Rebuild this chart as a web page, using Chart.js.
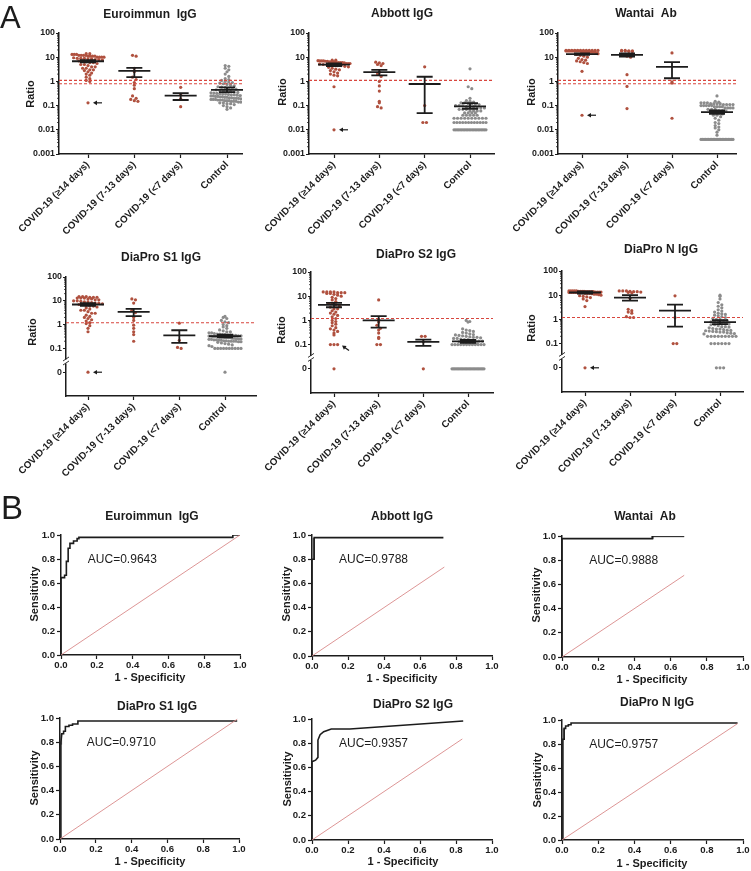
<!DOCTYPE html>
<html><head><meta charset="utf-8"><title>SARS-CoV-2 antibody assays</title>
<script src="https://cdn.jsdelivr.net/npm/chart.js@4.4.1/dist/chart.umd.min.js"></script>
<style>html,body{margin:0;padding:0;background:#fff}#wrap{position:relative;width:751px;height:871px;overflow:hidden;background:#fff}#wrap canvas{position:absolute;left:0;top:0}</style>
</head><body><div id="wrap"></div>
<script>
// ================= DATA =================
const groupLabels = ["COVID-19 (\u226514 days)", "COVID-19 (7-13 days)", "COVID-19 (<7 days)", "Control"];
const logTickLabels = ["0.001","0.01","0.1","1","10","100"];
const brokenTickLabels = ["0","0.1","1","10","100"];
const rocTickLabels = ["0.0","0.2","0.4","0.6","0.8","1.0"];

// Euroimmun IgG ratios
const euroG1 = [14,14,13,13,13,12,12,12,12,11,11,11,11,10,10,10,10,9.5,9,9,9,8.5,8.5,8,8,7.5,7,7,6.5,6,6,5.5,5,5,4.5,4,4,3.5,3.5,3,3,2.8,2.5,2.2,2,1.8,1.5,1.3,1.1,1.0,0.13];
const euroG2 = [12,11,3.5,2.5,1.5,1.2,0.9,0.7,0.5,0.25,0.2,0.18,0.16,0.15];
const euroG3 = [0.57,0.28,0.19,0.09];
const euroCtrl = [4.5,4.2,3.5,3.0,2.5,2.0,1.6,1.3,1.2,1.1,1.0,0.95,0.9,0.85,0.8,0.75,0.7,0.65,0.6,0.58,0.55,0.52,0.5,0.48,0.45,0.42,0.4,0.4,0.38,0.36,0.35,0.34,0.33,0.32,0.31,0.3,0.3,0.29,0.28,0.28,0.27,0.26,0.26,0.25,0.25,0.24,0.24,0.23,0.23,0.22,0.22,0.21,0.21,0.2,0.2,0.2,0.19,0.19,0.18,0.18,0.18,0.17,0.17,0.17,0.16,0.16,0.16,0.15,0.15,0.15,0.14,0.14,0.14,0.13,0.13,0.12,0.12,0.11,0.1,0.09,0.08,0.07];
const euroMean = [6.8,2.7,0.26,0.45];
const euroHi = [7.6,3.6,0.33,0.57];
const euroLo = [6.1,1.5,0.17,0.36];
const euroCut = [1.1,0.8];

// Abbott IgG index
const abbG1 = [7.5,7.5,7.2,7,7,7,6.8,6.8,6.5,6.5,6.5,6.2,6,6,6,6,5.8,5.5,5.5,5.5,5.2,5,5,5,4.8,4.5,4.5,4.2,4,3.8,3.5,3.2,3,2.8,2.5,2.2,2,1.8,1.7,0.6,0.01];
const abbG2 = [6.2,5.8,5.5,5,4.5,2.4,2,1.6,1.0,0.65,0.4,0.15,0.13,0.09,0.08];
const abbG3 = [4,0.1,0.02,0.02];
const abbCtrl = [3.3,0.6,0.5,0.2,0.16,0.15,0.14,0.13,0.13,0.12,0.12,0.11,0.11,0.1,0.1,0.1,0.09,0.09,0.09,0.08,0.08,0.08,0.07,0.07,0.07,0.06,0.06,0.06,0.06,0.05,0.05,0.05,0.05,0.04,0.04,0.04,0.04,0.04,0.03,0.03,0.03,0.03,0.03,0.03,0.03,0.03,0.03,0.03,0.02,0.02,0.02,0.02,0.02,0.02,0.02,0.02,0.02,0.02,0.02,0.02,0.01,0.01,0.01,0.01,0.01,0.01,0.01,0.01,0.01,0.01,0.01,0.01,0.01,0.01,0.01,0.01,0.01,0.01,0.01,0.01,0.01,0.01];
const abbMean = [4.9,2.4,0.78,0.093];
const abbHi = [5.5,3.0,1.56,0.127];
const abbLo = [4.3,1.77,0.049,0.074];
const abbCut = [1.1];

// Wantai total antibody
const wanG1 = [19,19,19,19,19,19,19,19,19,19,19,19,18,18,18,18,18,18,18,18,18,18,17,17,17,17,17,17,16,16,16,16,15,14,13,12,11,10,9,8,7.5,7,6.5,6,5.5,2.6,0.04];
const wanG2 = [19,19,18.5,18.5,18,18,17.5,17,12,11,10,1.9,0.62,0.075];
const wanG3 = [15,0.95,0.85,0.03];
const wanCtrl = [0.25,0.15,0.14,0.13,0.13,0.13,0.12,0.12,0.12,0.12,0.11,0.11,0.11,0.11,0.1,0.1,0.1,0.1,0.1,0.09,0.09,0.09,0.09,0.08,0.08,0.08,0.08,0.07,0.07,0.07,0.06,0.06,0.06,0.055,0.05,0.05,0.045,0.04,0.04,0.035,0.03,0.025,0.02,0.018,0.015,0.013,0.012,0.01,0.008,0.006,0.004,0.004,0.004,0.004,0.004,0.004,0.004,0.004,0.004,0.004,0.004,0.004,0.004,0.004,0.004,0.004,0.004,0.004,0.004,0.004,0.004,0.004];
const wanMean = [13.5,12.5,4.0,0.054];
const wanHi = [14.5,14.2,6.3,0.063];
const wanLo = [12.5,10.5,1.35,0.046];
const wanCut = [1.1,0.8];

// DiaPro S1 IgG
const s1G1 = [15,15,15,14,14,14,13,13,13,12,12,11,11,10,10,9.5,9,9,8.5,8,8,7.5,7,7,6.5,6,6,5.5,5,4.5,4,4,3.5,3,3,2.5,2.2,2,1.8,1.6,1.4,1.2,1.1,0.9,0.7,0.5,0];
const s1G2 = [12,11,8,4,3.2,2,1.5,0.95,0.7,0.5,0.38,0.2];
const s1G3 = [1.15,0.22,0.11,0.1];
const s1Ctrl = [2.2,2.0,1.8,1.5,1.3,1.2,1.0,0.9,0.8,0.7,0.6,0.55,0.5,0.5,0.45,0.45,0.42,0.4,0.4,0.38,0.38,0.36,0.36,0.35,0.35,0.34,0.34,0.33,0.33,0.32,0.32,0.31,0.31,0.3,0.3,0.3,0.29,0.29,0.28,0.28,0.27,0.27,0.26,0.26,0.25,0.25,0.24,0.24,0.23,0.23,0.22,0.22,0.21,0.21,0.2,0.2,0.2,0.2,0.19,0.19,0.18,0.17,0.16,0.15,0.14,0.13,0.12,0.1,0.1,0.1,0.1,0.1,0.1,0.1,0.1,0.1,0.1,0];
const s1Mean = [7.0,3.4,0.35,0.33];
const s1Hi = [8.0,4.6,0.58,0.38];
const s1Lo = [6.2,2.25,0.17,0.29];
const s1Cut = [1.2];

// DiaPro S2 IgG
const s2G1 = [15,15,15,15,14,14,14,13,13,12,11,10,9,8,7,6,5,5,4.5,4,3.5,3,3,2.5,2.2,2,1.8,1.6,1.4,1.2,1,0.9,0.8,0.7,0.6,0.5,0.45,0.4,0.35,0.3,0.25,0.1,0.1,0.1,0];
const s2G2 = [7,1.1,0.85,0.63,0.47,0.4,0.3,0.2,0.18,0.1,0.1];
const s2G3 = [0.22,0.22,0.13,0];
const s2Ctrl = [1.0,0.9,0.85,0.45,0.4,0.38,0.35,0.32,0.3,0.28,0.26,0.25,0.24,0.23,0.22,0.21,0.2,0.2,0.19,0.18,0.18,0.17,0.16,0.16,0.15,0.15,0.14,0.14,0.13,0.13,0.12,0.12,0.11,0.11,0.1,0.1,0.1,0.1,0.1,0.1,0.1,0.1,0.1,0.1,0.1,0.1,0,0,0,0,0,0,0,0,0,0,0,0,0,0,0,0,0,0,0,0,0,0,0,0,0];
const s2Mean = [4.4,1.0,0.13,0.137];
const s2Hi = [5.3,1.5,0.16,0.155];
const s2Lo = [3.5,0.5,0.088,0.117];
const s2Cut = [1.2];

// DiaPro N IgG
const nG1 = [15,15,15,15,15,14.5,14.5,14.5,14.5,14,14,14,14,14,13.5,13.5,13.5,13.5,13,13,13,13,12.5,12.5,12.5,12,12,12,11.5,11,11,10.5,10,9.5,9,8.5,8,7,6,3.4,0];
const nG2 = [15,15,15,14.5,14,14,13.5,13,12.5,7.5,2.6,2.3,2,1.8,1.3,1.2,1.2];
const nG3 = [9.4,1.2,0.1,0.1];
const nCtrl = [10,9,7,5,4,3.5,3,2.5,2.2,2,1.8,1.7,1.6,1.5,1.4,1.3,1.2,1.1,1.0,1.0,0.9,0.9,0.8,0.8,0.75,0.7,0.7,0.65,0.6,0.6,0.55,0.5,0.5,0.48,0.45,0.42,0.4,0.4,0.38,0.36,0.35,0.34,0.33,0.32,0.31,0.3,0.3,0.28,0.27,0.26,0.25,0.2,0.2,0.2,0.2,0.2,0.2,0.2,0.2,0.2,0.1,0.1,0.1,0.1,0.1,0.1,0,0,0];
const nMean = [12.9,8.0,2.3,0.77];
const nHi = [14.2,10,4.1,0.94];
const nLo = [11.7,6.0,0.5,0.64];
const nCut = [1.2];

// ROC curves (1 - specificity, sensitivity)
const rocEuroX = [0,0,0.02,0.02,0.03,0.03,0.04,0.04,0.05,0.05,0.07,0.07,0.09,0.09,0.1,0.1,0.96,0.96,1.0];
const rocEuroY = [0,0.645,0.645,0.665,0.665,0.78,0.78,0.89,0.89,0.93,0.93,0.95,0.95,0.97,0.97,0.98,0.98,1.0,1.0];
const rocAbbX = [0,0,0.012,0.012,0.73];
const rocAbbY = [0,0.8,0.8,0.978,0.978];
const rocAbbTieX = [0.006,0.006];
const rocAbbTieY = [0.8,0.975];
const rocWanX = [0,0,0.5,0.5,0.675];
const rocWanY = [0,0.978,0.978,1.0,1.0];
const rocWanTieX = [0.5,0.5,0.675];
const rocWanTieY = [0.978,1.0,1.0];
const rocS1X = [0,0.005,0.01,0.02,0.02,0.03,0.03,0.05,0.05,0.07,0.07,0.1,0.1,0.99];
const rocS1Y = [0,0.8,0.87,0.87,0.89,0.89,0.93,0.93,0.94,0.94,0.95,0.95,0.975,0.975];
const rocS1TieX = [0.005,0.005];
const rocS1TieY = [0.78,0.87];
const rocS2X = [0,0,0.02,0.033,0.033,0.045,0.065,0.107,0.21,0.84];
const rocS2Y = [0,0.647,0.66,0.683,0.826,0.87,0.895,0.917,0.917,0.983];
const rocNX = [0,0.005,0.012,0.012,0.02,0.02,0.035,0.035,0.05,0.05,0.97];
const rocNY = [0,0.84,0.84,0.93,0.93,0.95,0.95,0.96,0.96,0.975,0.975];
const rocNTieX = [0.005,0.005];
const rocNTieY = [0.84,0.93];
const rocDiagEnd = [1.0,0.735,0.675,0.99,0.835,0.97];
const aucValues = ["0.9643","0.9788","0.9888","0.9710","0.9357","0.9757"];
const assayNames = ["Euroimmun  IgG","Abbott IgG","Wantai  Ab","DiaPro S1 IgG","DiaPro S2 IgG","DiaPro N IgG"];

// ================= RENDERING =================
const FONT = '"Liberation Sans", Arial, Helvetica, sans-serif';
Chart.defaults.font.family = FONT;
const INK = '#1c1c1c', RED = '#b0513f', GRAY = '#8c8c8c', CUTC = '#d8463e', DIAG = '#d98a8a';
const ZERO_P = -2;
const toP = v => v > 0 ? Math.log10(v) : ZERO_P;
const wrap = document.getElementById('wrap');
function newCanvas(){ const c = document.createElement('canvas'); c.width = 751; c.height = 871; c.style.width='751px'; c.style.height='871px'; wrap.appendChild(c); return c; }

function textPlugin(items){
  return {id:'txt', afterDraw(chart){ const ctx = chart.ctx;
    items.forEach(t => { ctx.save(); ctx.font = t.font; ctx.fillStyle = INK; ctx.textAlign = t.align || 'center'; ctx.textBaseline = t.base || 'middle'; ctx.translate(t.x, t.y); if (t.rot) ctx.rotate(t.rot); ctx.fillText(t.text, 0, 0); ctx.restore(); });
  }};
}

function swarm(values, cat, binP, stepU, maxHalfU){
  const bins = new Map();
  values.forEach(v => { const p = toP(v); const k = v > 0 ? Math.round(p / binP) : 'z'; if (!bins.has(k)) bins.set(k, []); bins.get(k).push(p); });
  const pts = [];
  bins.forEach(arr => { const n = arr.length; const s = n > 1 ? Math.min(stepU, 2 * maxHalfU / (n - 1)) : 0; arr.forEach((p, i) => pts.push({x: cat + (i - (n - 1) / 2) * s, y: p})); });
  return pts;
}

const dotPanels = [
 {name:0, g:[euroG1,euroG2,euroG3,euroCtrl], mean:euroMean, hi:euroHi, lo:euroLo, cut:euroCut, arrow:{cat:0,val:0.13,type:'left'}, box:[59,33,242,154], cats:[88,227], broken:false, tt:[150,15], ratio:[31,94], letter:'A'},
 {name:1, g:[abbG1,abbG2,abbG3,abbCtrl], mean:abbMean, hi:abbHi, lo:abbLo, cut:abbCut, arrow:{cat:0,val:0.01,type:'left'}, box:[309,33,494,154], cats:[334,470], broken:false, tt:[402,14], ratio:[283,92]},
 {name:2, g:[wanG1,wanG2,wanG3,wanCtrl], mean:wanMean, hi:wanHi, lo:wanLo, cut:wanCut, arrow:{cat:0,val:0.04,type:'left'}, box:[558,33,736,154], cats:[582,717], broken:false, tt:[646,14], ratio:[532,92]},
 {name:3, g:[s1G1,s1G2,s1G3,s1Ctrl], mean:s1Mean, hi:s1Hi, lo:s1Lo, cut:s1Cut, arrow:{cat:0,val:0,type:'left'}, box:[66,277,256,396], cats:[88,225], broken:true, tt:[161,258], ratio:[33,332]},
 {name:4, g:[s2G1,s2G2,s2G3,s2Ctrl], mean:s2Mean, hi:s2Hi, lo:s2Lo, cut:s2Cut, arrow:{cat:0,val:0.1,type:'upleft'}, box:[311,272,493,393], cats:[334,468], broken:true, tt:[416,255], ratio:[282,330]},
 {name:5, g:[nG1,nG2,nG3,nCtrl], mean:nMean, hi:nHi, lo:nLo, cut:nCut, arrow:{cat:0,val:0,type:'left'}, box:[562,271,743,392], cats:[585,720], broken:true, tt:[661,250], ratio:[532,328]}
];

function makeDot(P){
  const cv = newCanvas();
  const [x0,y0,x1,y1] = P.box;
  const ppu = (P.cats[1] - P.cats[0]) / 3;
  const xmin = -(P.cats[0] - x0) / ppu, xmax = 3 + (x1 - P.cats[1]) / ppu;
  const ppd = (y1 - y0) / 5;
  const YW = 40, XH = 80;
  const tickLabels = P.broken ? brokenTickLabels : logTickLabels;
  const tickVals = tickLabels.map(l => toP(parseFloat(l)));
  const ds = [];
  P.cut.forEach(c => ds.push({type:'line', data:[{x:xmin, y:Math.log10(c)}, {x:xmax, y:Math.log10(c)}], borderColor:CUTC, borderWidth:1.1, borderDash:[3,2], pointRadius:0}));
  P.g.forEach((vals, i) => ds.push({type:'scatter', data: swarm(vals, i, 3.2 / ppd, 3.6 / ppu, 16 / ppu), pointRadius:1.6, pointBackgroundColor: i < 3 ? RED : GRAY, pointBorderWidth:0, pointHoverRadius:0}));
  const texts = [
    {text: assayNames[P.name], x:P.tt[0], y:P.tt[1], font:'bold 12px ' + FONT},
    {text:'Ratio', x:P.ratio[0], y:P.ratio[1], font:'bold 11px ' + FONT, rot:-Math.PI/2}
  ];
  if (P.letter) texts.push({text:P.letter, x:0, y:28, font:'31px ' + FONT, align:'left', base:'alphabetic'});
  const extra = {id:'extra', afterDatasetsDraw(chart){
    const ctx = chart.ctx, xs = chart.scales.x, ys = chart.scales.y;
    ctx.save(); ctx.strokeStyle = INK; ctx.lineWidth = 1.8;
    P.mean.forEach((m, i) => {
      const xc = xs.getPixelForValue(i), ym = ys.getPixelForValue(toP(m)), yh = ys.getPixelForValue(toP(P.hi[i])), yl = ys.getPixelForValue(toP(P.lo[i]));
      ctx.beginPath(); ctx.moveTo(xc - 16, ym); ctx.lineTo(xc + 16, ym);
      ctx.moveTo(xc, yh); ctx.lineTo(xc, yl);
      ctx.moveTo(xc - 8, yh); ctx.lineTo(xc + 8, yh);
      ctx.moveTo(xc - 8, yl); ctx.lineTo(xc + 8, yl); ctx.stroke();
    });
    // arrow annotation
    const A = P.arrow, ax = xs.getPixelForValue(A.cat), ay = ys.getPixelForValue(toP(A.val));
    ctx.fillStyle = INK; ctx.lineWidth = 1.2;
    let hx, hy, tx, ty;
    if (A.type === 'left') { hx = ax + 5; hy = ay; tx = ax + 14; ty = ay; }
    else { hx = ax + 8; hy = ay + 1; tx = ax + 15; ty = ay + 6; }
    const ang = Math.atan2(hy - ty, hx - tx);
    ctx.beginPath(); ctx.moveTo(tx, ty); ctx.lineTo(hx - 2*Math.cos(ang), hy - 2*Math.sin(ang)); ctx.stroke();
    ctx.beginPath(); ctx.moveTo(hx, hy);
    ctx.lineTo(hx - 4*Math.cos(ang) + 2.3*Math.sin(ang), hy - 4*Math.sin(ang) - 2.3*Math.cos(ang));
    ctx.lineTo(hx - 4*Math.cos(ang) - 2.3*Math.sin(ang), hy - 4*Math.sin(ang) + 2.3*Math.cos(ang));
    ctx.closePath(); ctx.fill();
    // minor ticks
    ctx.lineWidth = 0.8;
    const pLow = P.broken ? -1 : -3;
    for (let d = pLow; d < 2; d++) for (let k = 2; k <= 9; k++) {
      const y = ys.getPixelForValue(d + Math.log10(k));
      ctx.beginPath(); ctx.moveTo(x0, y); ctx.lineTo(x0 - 2, y); ctx.stroke();
    }
    // axis break
    if (P.broken) {
      const yb = ys.getPixelForValue(-1.55);
      ctx.fillStyle = '#fff'; ctx.fillRect(x0 - 2, yb - 2, 4, 4);
      ctx.strokeStyle = INK; ctx.lineWidth = 0.9;
      ctx.beginPath(); ctx.moveTo(x0 - 3, yb - 0.5); ctx.lineTo(x0 + 3, yb - 4.5); ctx.moveTo(x0 - 3, yb + 3.5); ctx.lineTo(x0 + 3, yb - 0.5); ctx.stroke();
    }
    ctx.restore();
  }};
  new Chart(cv, {type:'scatter', data:{datasets:ds}, options:{
    responsive:false, animation:false, events:[],
    layout:{padding:{left:x0 - YW, top:y0, right:751 - x1, bottom:871 - y1 - XH}},
    plugins:{legend:{display:false}, tooltip:{enabled:false}, title:{display:false}},
    scales:{
      x:{type:'linear', min:xmin, max:xmax,
         afterBuildTicks: s => { s.ticks = groupLabels.map((_, i) => ({value:i})); },
         afterFit: s => { s.height = XH; s.paddingLeft = 0; s.paddingRight = 0; },
         ticks:{callback:(v, i) => groupLabels[i], minRotation:45, maxRotation:45, autoSkip:false, color:INK, padding:1, font:{size:9.8, weight:'bold'}},
         grid:{drawOnChartArea:false, drawTicks:true, tickLength:4, tickColor:INK, tickWidth:1.2},
         border:{display:true, color:INK, width:1.5}},
      y:{type:'linear', min:-3, max:2,
         afterBuildTicks: s => { s.ticks = tickVals.map(v => ({value:v})); },
         afterFit: s => { s.width = YW; s.paddingTop = 0; s.paddingBottom = 0; },
         ticks:{callback:(v, i) => tickLabels[i], autoSkip:false, color:INK, padding:1, font:{size:8.8, weight:'bold'}},
         grid:{drawOnChartArea:false, drawTicks:true, tickLength:3, tickColor:INK, tickWidth:1.2},
         border:{display:true, color:INK, width:1.5}}
    }
  }, plugins:[extra, textPlugin(texts)]});
}

const rocPanels = [
 {x:rocEuroX, y:rocEuroY, tx:null, ty:null, box:[61,535,240,655], tt:[152,517], sens:[35,594], spec:[150,678], letter:'B'},
 {x:rocAbbX, y:rocAbbY, tx:rocAbbTieX, ty:rocAbbTieY, box:[312,535,492,656], tt:[402,517], sens:[287,594], spec:[402,679]},
 {x:rocWanX, y:rocWanY, tx:rocWanTieX, ty:rocWanTieY, box:[562,536,743,657], tt:[645,517], sens:[537,595], spec:[652,680]},
 {x:rocS1X, y:rocS1Y, tx:rocS1TieX, ty:rocS1TieY, box:[60,718,239,839], tt:[157,707], sens:[35,778], spec:[150,862]},
 {x:rocS2X, y:rocS2Y, tx:null, ty:null, box:[312,719,492,840], tt:[413,705], sens:[288,779], spec:[403,862]},
 {x:rocNX, y:rocNY, tx:rocNTieX, ty:rocNTieY, box:[562,720,743,840], tt:[657,703], sens:[538,780], spec:[652,864]}
];

function makeRoc(P, idx){
  const cv = newCanvas();
  const [x0,y0,x1,y1] = P.box;
  const YW = 32, XH = 20;
  const tv = rocTickLabels.map(parseFloat);
  const de = rocDiagEnd[idx];
  const ds = [
    {type:'line', data:[{x:0,y:0},{x:de,y:de}], borderColor:DIAG, borderWidth:0.9, pointRadius:0},
    {type:'line', data:P.x.map((v, i) => ({x:v, y:P.y[i]})), borderColor:INK, borderWidth:1.6, pointRadius:0, tension:0}
  ];
  if (P.tx) ds.push({type:'line', data:P.tx.map((v, i) => ({x:v, y:P.ty[i]})), borderColor:'#777', borderWidth:2.4, pointRadius:0});
  const texts = [
    {text:assayNames[idx], x:P.tt[0], y:P.tt[1], font:'bold 12px ' + FONT},
    {text:'Sensitivity', x:P.sens[0], y:P.sens[1], font:'bold 11px ' + FONT, rot:-Math.PI/2},
    {text:'1 - Specificity', x:P.spec[0], y:P.spec[1], font:'bold 11px ' + FONT}
  ];
  if (P.letter) texts.push({text:P.letter, x:1, y:519, font:'33px ' + FONT, align:'left', base:'alphabetic'});
  const auc = {id:'auc', afterDraw(chart){ const ctx = chart.ctx; ctx.save(); ctx.font = '12px ' + FONT; ctx.fillStyle = INK; ctx.textAlign = 'left'; ctx.textBaseline = 'middle';
    ctx.fillText('AUC=' + aucValues[idx], chart.scales.x.getPixelForValue(0.15), chart.scales.y.getPixelForValue(0.795)); ctx.restore(); }};
  new Chart(cv, {type:'scatter', data:{datasets:ds}, options:{
    responsive:false, animation:false, events:[],
    layout:{padding:{left:x0 - YW, top:y0, right:751 - x1, bottom:871 - y1 - XH}},
    plugins:{legend:{display:false}, tooltip:{enabled:false}},
    scales:{
      x:{type:'linear', min:0, max:1, afterBuildTicks: s => { s.ticks = tv.map(v => ({value:v})); },
         afterFit: s => { s.height = XH; s.paddingLeft = 0; s.paddingRight = 0; },
         ticks:{callback:(v, i) => rocTickLabels[i], autoSkip:false, maxRotation:0, color:INK, padding:1, font:{size:9.6, weight:'bold'}},
         grid:{drawOnChartArea:false, tickLength:4, tickColor:INK, tickWidth:1.2}, border:{display:true, color:INK, width:1.5}},
      y:{type:'linear', min:0, max:1, afterBuildTicks: s => { s.ticks = tv.map(v => ({value:v})); },
         afterFit: s => { s.width = YW; s.paddingTop = 0; s.paddingBottom = 0; },
         ticks:{callback:(v, i) => rocTickLabels[i], autoSkip:false, color:INK, padding:2, font:{size:9.6, weight:'bold'}},
         grid:{drawOnChartArea:false, tickLength:4, tickColor:INK, tickWidth:1.2}, border:{display:true, color:INK, width:1.5}}
    }
  }, plugins:[auc, textPlugin(texts)]});
}

dotPanels.forEach(makeDot);
rocPanels.forEach(makeRoc);
</script></body></html>
